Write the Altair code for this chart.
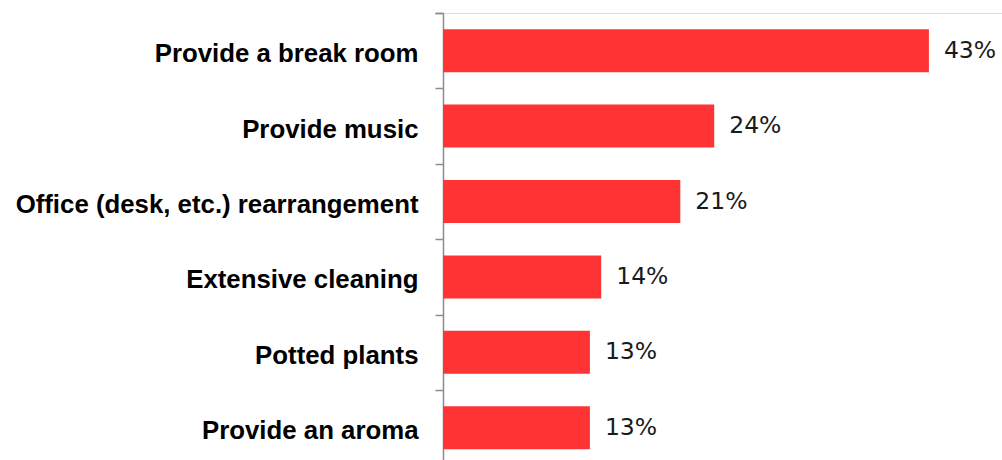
import altair as alt
import pandas as pd

categories = [
    "Provide a break room",
    "Provide music",
    "Office (desk, etc.) rearrangement",
    "Extensive cleaning",
    "Potted plants",
    "Provide an aroma",
]
values = [43, 24, 21, 14, 13, 13]
labels = ["43%", "24%", "21%", "14%", "13%", "13%"]

df = pd.DataFrame({"category": categories, "value": values, "label": labels})

W = 559
H = 447
px_per_unit = 11.3
step = 75.4
pad_inner = 0.43
tick_shift = pad_inner * step / 2

y_enc = alt.Y(
    "category:N",
    sort=None,
    title=None,
    scale=alt.Scale(range=[0, step * 6], paddingInner=pad_inner, paddingOuter=pad_inner / 2),
    axis=alt.Axis(
        labelFont="Liberation Sans",
        labelFontWeight="bold",
        labelFontSize=25.8,
        labelColor="#000000",
        labelLimit=0,
        labelPadding=17,
        labelOffset=tick_shift + 3,
        tickSize=8,
        tickColor="#8c8c8c",
        tickWidth=1.5,
        domainColor="#8c8c8c",
        domainWidth=1.5,
        bandPosition=0,
        tickOffset=-tick_shift,
        tickExtra=True,
        grid=False,
    ),
)
x_enc = alt.X(
    "value:Q",
    axis=None,
    scale=alt.Scale(domain=[0, W / px_per_unit], nice=False, zero=True),
)

bars = alt.Chart(df).mark_bar(color="#FF3333").encode(x=x_enc, y=y_enc)
text = alt.Chart(df).mark_text(
    align="left",
    baseline="middle",
    dx=15,
    font="DejaVu Sans",
    fontSize=23.5,
    color="#1a1a1a",
).encode(x=x_enc, y=y_enc, text="label:N")

chart = (
    alt.layer(bars, text)
    .properties(
        width=W,
        height=H,
        autosize=alt.AutoSizeParams(type="none"),
        padding={"left": 443, "top": 13, "right": 0, "bottom": 0},
    )
    .configure_view(stroke=None)
    .configure(background="white")
)

chart.save("out.html", embed_options={"renderer": "svg", "actions": False})
